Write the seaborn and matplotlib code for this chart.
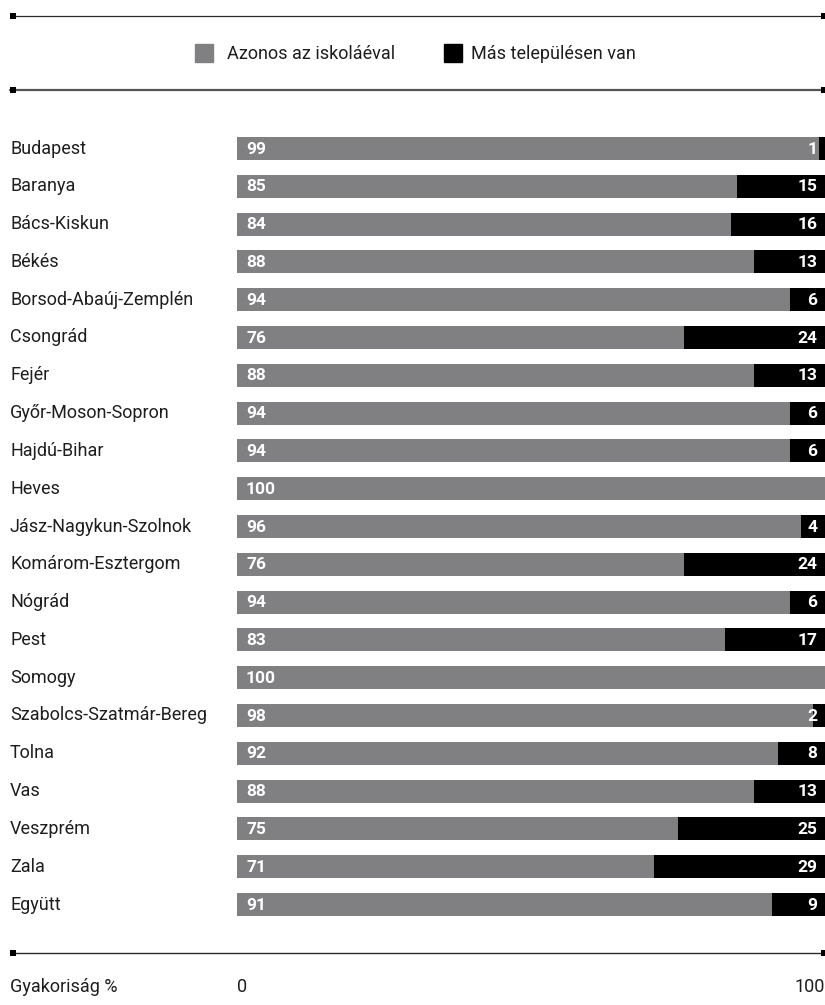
import matplotlib
matplotlib.use("Agg")
import matplotlib.pyplot as plt
from matplotlib.lines import Line2D
import pandas as pd
import seaborn as sns

counties = ["Budapest", "Baranya", "Bács-Kiskun", "Békés", "Borsod-Abaúj-Zemplén",
            "Csongrád", "Fejér", "Győr-Moson-Sopron", "Hajdú-Bihar", "Heves",
            "Jász-Nagykun-Szolnok", "Komárom-Esztergom", "Nógrád", "Pest", "Somogy",
            "Szabolcs-Szatmár-Bereg", "Tolna", "Vas", "Veszprém", "Zala", "Együtt"]
same = [99, 85, 84, 88, 94, 76, 88, 94, 94, 100, 96, 76, 94, 83, 100, 98, 92, 88, 75, 71, 91]
other = [1, 15, 16, 13, 6, 24, 13, 6, 6, 0, 4, 24, 6, 17, 0, 2, 8, 13, 25, 29, 9]
legend_labels = ["Azonos az iskoláéval", "Más településen van"]

GRAY = "#808083"
BLACK = "#000000"
TXT = "#1e1e1e"

sns.set_theme(style="white")
plt.rcParams["font.family"] = ["Roboto", "DejaVu Sans"]

df = pd.DataFrame({"county": counties, "same": same, "other": other})
df["total"] = df["same"] + df["other"]

W, H = 825, 1005
fig = plt.figure(figsize=(W / 100, H / 100), dpi=100)

# bar area: x 237..825 px, first row center y=148.5, last 905
top_c, bot_c = 148.5, 904.5
row_step = (bot_c - top_c) / (len(counties) - 1)
y0 = bot_c + row_step / 2
y1 = top_c - row_step / 2
ax = fig.add_axes([237 / W, 1 - y0 / H, (825 - 237) / W, (y0 - y1) / H])

bw = 23 / row_step
sns.barplot(data=df, x="total", y="county", color=BLACK, orient="h", width=bw,
            saturation=1, linewidth=0, ax=ax)
sns.barplot(data=df, x="same", y="county", color=GRAY, orient="h", width=bw,
            saturation=1, linewidth=0, ax=ax)
ax.set_xlim(0, 100)
ax.set_ylim(len(counties) - 0.5, -0.5)
ax.set_xlabel("")
ax.set_ylabel("")
ax.set_xticks([])
ax.set_yticks([])
for s in ax.spines.values():
    s.set_visible(False)

for i, row in df.iterrows():
    ax.annotate(str(row["same"]), (0, i), xytext=(6.5, -0.5), textcoords="offset points",
                ha="left", va="center", color="white", fontsize=12.5, fontweight="bold")
    if row["other"] > 0:
        ax.annotate(str(row["other"]), (100, i), xytext=(-5.5, -0.5), textcoords="offset points",
                    ha="right", va="center", color="white", fontsize=12.5, fontweight="bold")
    fig.text(10 / W, 1 - (top_c + i * row_step) / H, row["county"], ha="left", va="center",
             fontsize=13, color=TXT)


# horizontal rules with small square end caps
def rule(ypx, color, lw):
    y = 1 - ypx / H
    fig.add_artist(Line2D([10 / W, 825 / W], [y, y], color=color, lw=lw,
                          transform=fig.transFigure))
    fig.add_artist(Line2D([13 / W, 823.5 / W], [y, y], ls="none", marker="s", ms=4.3,
                          mew=0, color="#000000", transform=fig.transFigure))


rule(15.7, "#2a2a2a", 0.9)
rule(90, "#555555", 1.6)
rule(952.5, "#2a2a2a", 1.0)

# legend
legend_pos = [(GRAY, 195, 227), (BLACK, 444, 471)]
for label, (col, xs, xt) in zip(legend_labels, legend_pos):
    fig.patches.append(plt.Rectangle((xs / W, 1 - 62 / H), 18 / W, 18 / H, color=col,
                                     transform=fig.transFigure, figure=fig))
    fig.text(xt / W, 1 - 54 / H, label, ha="left", va="center", fontsize=13, color=TXT)

# scale labels
fig.text(10 / W, 1 - 987 / H, "Gyakoriság %", ha="left", va="center", fontsize=13, color=TXT)
fig.text(237 / W, 1 - 987 / H, "0", ha="left", va="center", fontsize=13, color=TXT)
fig.text(825 / W, 1 - 987 / H, "100", ha="right", va="center", fontsize=13, color=TXT)

fig.savefig("out.png", dpi=100)
